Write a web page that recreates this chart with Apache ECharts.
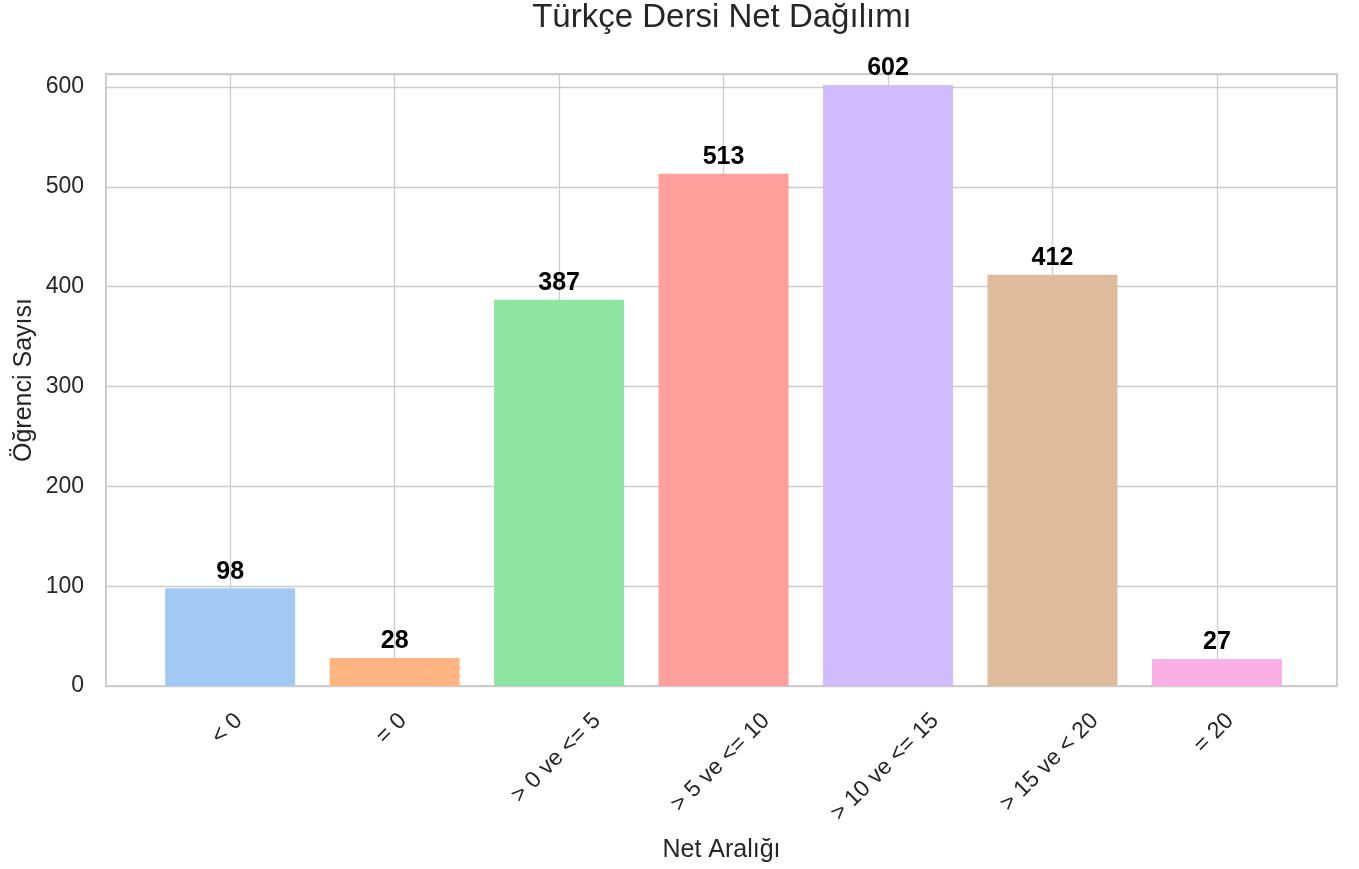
<!DOCTYPE html>
<html>
<head>
<meta charset="utf-8">
<script src="https://cdn.jsdelivr.net/npm/echarts@6/dist/echarts.min.js"></script>
<style>html,body{margin:0;padding:0;background:#fff;}#c{width:1359px;height:869px;}</style>
</head>
<body>
<div id="c"></div>
<script>
const categories = ['< 0', '= 0', '> 0 ve <= 5', '> 5 ve <= 10', '> 10 ve <= 15', '> 15 ve < 20', '= 20'];
const counts = [98, 28, 387, 513, 602, 412, 27];
const colors = ['#a1c9f4', '#ffb482', '#8de5a1', '#ff9f9b', '#d0bbff', '#debb9b', '#fab0e4'];
const yTicks = [0, 100, 200, 300, 400, 500, 600];

const FONT = '"Liberation Sans", Arial, Helvetica, sans-serif';
const TXT = '#262626';
const GRIDC = '#cccccc';

const chart = echarts.init(document.getElementById('c'), null, {renderer: 'canvas'});

const measureCtx = document.createElement('canvas').getContext('2d');
measureCtx.font = '23px ' + FONT;

const barData = counts.map((v, i) => ({
  value: [i, v],
  itemStyle: {color: colors[i]}
}));

chart.setOption({
  backgroundColor: '#ffffff',
  animation: false,
  title: {
    text: 'Türkçe Dersi Net Dağılımı',
    left: 722, top: 1, textAlign: 'center', padding: 0,
    textStyle: {fontFamily: FONT, fontSize: 33, fontWeight: 'normal', color: TXT}
  },
  grid: {
    left: 106, right: 22, top: 74, bottom: 183,
    show: true, borderColor: GRIDC, borderWidth: 2, backgroundColor: 'transparent'
  },
  xAxis: {
    type: 'value', min: -0.755, max: 6.73,
    name: 'Net Aralığı', nameLocation: 'middle', nameGap: 152,
    nameTextStyle: {fontFamily: FONT, fontSize: 25, color: TXT},
    axisLine: {show: false}, axisTick: {show: false},
    axisLabel: {show: false},
    splitLine: {show: false}
  },
  yAxis: {
    type: 'value', min: 0, max: 613, interval: 100,
    name: 'Öğrenci Sayısı', nameLocation: 'middle', nameGap: 69,
    nameMoveOverlap: false,
    nameTextStyle: {fontFamily: FONT, fontSize: 25, color: TXT},
    axisLine: {show: false}, axisTick: {show: false},
    axisLabel: {
      margin: 22, fontFamily: FONT, fontSize: 23, color: TXT,
      formatter: v => (yTicks.indexOf(v) >= 0 ? String(v) : '')
    },
    splitLine: {show: true, lineStyle: {color: GRIDC, width: 1.3}}
  },
  series: [
    {
      type: 'line',
      data: [],
      z: 0,
      silent: true,
      markLine: {
        z: 0,
        silent: true,
        symbol: 'none',
        label: {show: false},
        animation: false,
        lineStyle: {color: GRIDC, width: 1.3, type: 'solid'},
        data: categories.map((c, i) => ({xAxis: i}))
      }
    },
    {
      type: 'bar',
      z: 3,
      data: barData,
      barWidth: 130,
      label: {
        show: true, position: 'top', distance: 4,
        fontFamily: FONT, fontSize: 25, fontWeight: 'bold', color: '#000',
        formatter: p => String(p.value[1])
      }
    },
    {
      type: 'custom',
      silent: true,
      clip: false,
      data: categories.map((c, i) => [i, 0]),
      renderItem: function (params, api) {
        const i = api.value(0);
        const pt = api.coord([i, 0]);
        const txt = categories[i];
        const L = measureCtx.measureText(txt).width;
        const H = 26;
        const s = Math.SQRT1_2;
        const pad = 22;
        const cy = pt[1] + pad + (L + H) * s / 2;
        return {
          type: 'text',
          x: pt[0] - 3,
          y: cy,
          rotation: Math.PI / 4,
          style: {
            text: txt,
            align: 'center',
            verticalAlign: 'middle',
            font: '23px ' + FONT,
            fill: TXT
          }
        };
      }
    }
  ]
});
</script>
</body>
</html>
